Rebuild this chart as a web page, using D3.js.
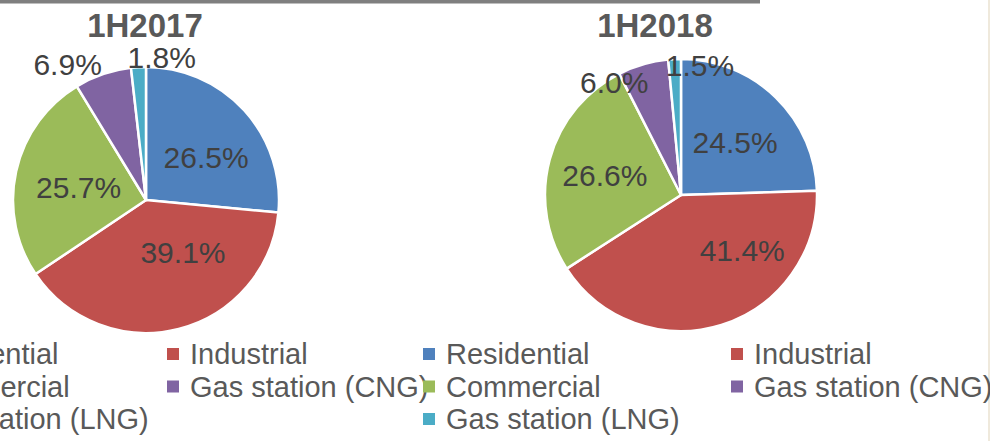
<!DOCTYPE html>
<html>
<head>
<meta charset="utf-8">
<script src="https://cdn.jsdelivr.net/npm/d3@7"></script>
<style>
  html, body { margin: 0; padding: 0; background: #fff; overflow: hidden; }
  svg { display: block; font-family: "Liberation Sans", Arial, sans-serif; }
</style>
</head>
<body>
<script>
// data
const periods = ["1H2017", "1H2018"];
const categories = ["Residential", "Industrial", "Commercial", "Gas station (CNG)", "Gas station (LNG)"];
const share2017 = [26.5, 39.1, 25.7, 6.9, 1.8];
const share2018 = [24.5, 41.4, 26.6, 6.0, 1.5];
const colors = ["#4F81BD", "#C0504D", "#9BBB59", "#8064A2", "#4BACC6"];
// ----------

const w = 990;
const h = 441;

// layout of the two pies (centre, radius, title, legend columns, label nudges)
const layout = [
  { cx: 146, cy: 200, r: 133, titleX: 145, legendX: [-108, 167],
    nudge: [[6, 7], [19, -18], [4, 3], [-31, 3], [24, 4]] },
  { cx: 681, cy: 195, r: 136, titleX: 655, legendX: [423, 731],
    nudge: [[2, 1], [39, -16], [-4, 0], [-25, 31], [26, 20]] },
];
const seriesByPeriod = [share2017, share2018];
// ----------

const svg = d3.select("body")
  .append("svg")
  .attr("width", w)
  .attr("height", h);

// frame bits cut in from the source slide
svg.append("rect")
  .attr("x", 0).attr("y", 0)
  .attr("width", 760).attr("height", 3.5)
  .attr("fill", "#7f7f7f");
svg.append("rect")
  .attr("x", 988).attr("y", 0)
  .attr("width", 2).attr("height", h)
  .attr("fill", "#efe9dc");

const color = d3.scaleOrdinal().domain(categories).range(colors);

const pie = d3.pie()
  .sort(null)
  .value((d) => d.value);

periods.forEach((period, k) => {
  const L = layout[k];
  const data = categories.map((c, i) => ({ cat: c, value: seriesByPeriod[k][i] }));
  const arcs = pie(data);

  const arc = d3.arc().innerRadius(0).outerRadius(L.r);
  const inArc = d3.arc().innerRadius(L.r * 0.55).outerRadius(L.r * 0.55);
  const outArc = d3.arc().innerRadius(L.r * 1.1).outerRadius(L.r * 1.1);

  // title
  svg.append("text")
    .text(period)
    .attr("x", L.titleX)
    .attr("y", 37)
    .attr("text-anchor", "middle")
    .attr("font-size", 33)
    .attr("font-weight", "bold")
    .attr("fill", "#595959");

  const g = svg.append("g")
    .attr("transform", `translate(${L.cx}, ${L.cy})`);

  g.selectAll("path")
    .data(arcs)
    .enter()
    .append("path")
    .attr("d", arc)
    .attr("fill", (d) => color(d.data.cat))
    .attr("stroke", "#fff")
    .attr("stroke-width", 2.5)
    .attr("stroke-linejoin", "round");

  // data labels
  g.selectAll("text.lbl")
    .data(arcs)
    .enter()
    .append("text")
    .attr("class", "lbl")
    .text((d) => `${d.data.value.toFixed(1)}%`)
    .attr("transform", (d, i) => {
      const p = d.data.value >= 10 ? inArc.centroid(d) : outArc.centroid(d);
      return `translate(${p[0] + L.nudge[i][0]}, ${p[1] + L.nudge[i][1]})`;
    })
    .attr("dy", "0.35em")
    .attr("text-anchor", "middle")
    .attr("font-size", 30)
    .attr("fill", "#404040");

  // legend
  const legend = svg.append("g").attr("class", "legend");
  const item = legend.selectAll("g")
    .data(categories)
    .enter()
    .append("g")
    .attr("transform", (d, i) =>
      `translate(${L.legendX[i % 2]}, ${354 + Math.floor(i / 2) * 32.5})`);

  item.append("rect")
    .attr("x", 0)
    .attr("y", -6)
    .attr("width", 12)
    .attr("height", 12)
    .attr("fill", (d) => color(d));

  item.append("text")
    .text((d) => d)
    .attr("x", 23)
    .attr("dy", "0.35em")
    .attr("font-size", 29)
    .attr("fill", "#595959");
});
</script>
</body>
</html>
